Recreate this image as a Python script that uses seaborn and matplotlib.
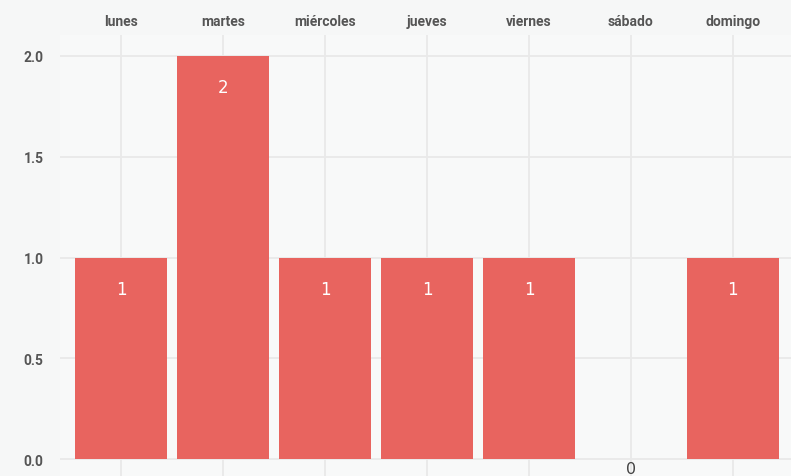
import matplotlib
matplotlib.use("Agg")
import matplotlib.pyplot as plt
import seaborn as sns
import pandas as pd

days = ["lunes", "martes", "miércoles", "jueves", "viernes", "sábado", "domingo"]
counts = [1, 2, 1, 1, 1, 0, 1]
yticks = [0.0, 0.5, 1.0, 1.5, 2.0]

sns.set_style("whitegrid")
plt.rcParams['font.family'] = ['Roboto', 'DejaVu Sans']

df = pd.DataFrame({"dia": days, "n": counts})

fig = plt.figure(figsize=(7.91, 4.77), dpi=100, facecolor="#f6f7f7")
W, H = 791, 477
ax = fig.add_axes([60 / W, 0, (791 - 60) / W, (477 - 36) / H])
ax.set_facecolor("#f8f9f9")

sns.barplot(data=df, x="dia", y="n", color="#e8645f", saturation=1, width=0.9,
            linewidth=0, edgecolor="none", ax=ax)

ax.set_xlim(-0.6, 6.57)
ax.set_ylim(-0.084, 2.104)
ax.set_yticks(yticks)
ax.set_yticklabels([f"{t:.1f}" for t in yticks])
ax.xaxis.tick_top()
ax.set_xlabel("")
ax.set_ylabel("")
ax.grid(True, color="#e9e9e9", linewidth=1.3)
for s in ax.spines.values():
    s.set_visible(False)
ax.tick_params(axis="both", length=0, labelsize=10, labelcolor="#555555")
ax.tick_params(axis="y", pad=12)
ax.tick_params(axis="x", pad=5)
for lbl in ax.get_xticklabels() + ax.get_yticklabels():
    lbl.set_fontweight("bold")

for i, v in enumerate(counts):
    if v > 0:
        ax.annotate(str(v), (i, v), xytext=(0, -31 * 0.72), textcoords="offset points",
                    ha="center", va="center", color="white", fontsize=12,
                    family=["DejaVu Sans"])
    else:
        ax.annotate(str(v), (i, v), xytext=(0, -9 * 0.72), textcoords="offset points",
                    ha="center", va="center", color="#444444", fontsize=11.5,
                    family=["DejaVu Sans"])

fig.savefig("out.png", dpi=100, facecolor=fig.get_facecolor())
